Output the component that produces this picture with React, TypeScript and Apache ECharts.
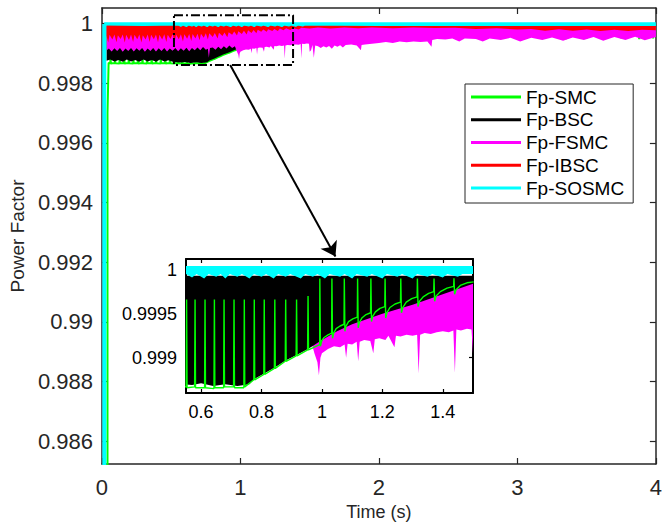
import React, { useEffect, useRef } from "react";
import * as echarts from "echarts";

// ---------------- data ----------------
const mainYTicks = [0.986, 0.988, 0.99, 0.992, 0.994, 0.996, 0.998, 1];
const insetXTicks = [0.6, 0.8, 1, 1.2, 1.4];
const insetYTicks = [0.999, 0.9995, 1];
const insetRange = [0.55, 1.5];
const seriesNames = ["Fp-SMC", "Fp-BSC", "Fp-FSMC", "Fp-IBSC", "Fp-SOSMC"];
const seriesColors = ["#00ff00", "#000000", "#ff00ff", "#ff0000", "#00ffff"];

// Fp-SMC (green) trace: start-up, ripple spikes, hooks after t≈1 s
const smcLine = [
  [0.040, 0.98520], [0.040, 0.99700], [0.048, 0.99868],
  [0.0605, 0.99867], [0.062, 0.99966], [0.0635, 0.99866],
  [0.0935, 0.99868], [0.095, 0.99966], [0.0965, 0.99867],
  [0.1265, 0.99866], [0.128, 0.99966], [0.1295, 0.99868],
  [0.1595, 0.99867], [0.161, 0.99966], [0.1625, 0.99866],
  [0.1925, 0.99868], [0.194, 0.99966], [0.1955, 0.99867],
  [0.2255, 0.99866], [0.227, 0.99966], [0.2285, 0.99868],
  [0.2585, 0.99867], [0.260, 0.99966], [0.2615, 0.99866],
  [0.2915, 0.99868], [0.293, 0.99966], [0.2945, 0.99867],
  [0.3245, 0.99866], [0.326, 0.99966], [0.3275, 0.99868],
  [0.3575, 0.99867], [0.359, 0.99966], [0.3605, 0.99866],
  [0.3905, 0.99868], [0.392, 0.99966], [0.3935, 0.99867],
  [0.4235, 0.99866], [0.425, 0.99966], [0.4265, 0.99868],
  [0.4565, 0.99867], [0.458, 0.99966], [0.4595, 0.99866],
  [0.4895, 0.99868], [0.491, 0.99966], [0.4925, 0.99867],
  [0.5225, 0.99866], [0.524, 0.99966], [0.5255, 0.99868],
  [0.5505, 0.99867], [0.552, 0.99966], [0.5535, 0.99866],
  [0.5785, 0.99867], [0.580, 0.99966], [0.5815, 0.99866],
  [0.6115, 0.99866], [0.613, 0.99966], [0.6145, 0.99866],
  [0.6425, 0.99865], [0.644, 0.99966], [0.6455, 0.99866],
  [0.6745, 0.99866], [0.676, 0.99966], [0.6775, 0.99867],
  [0.7075, 0.99867], [0.709, 0.99966], [0.7105, 0.99866],
  [0.7415, 0.99866], [0.743, 0.99966], [0.7445, 0.99867],
  [0.7745, 0.99875], [0.776, 0.99966], [0.7775, 0.99875],
  [0.8075, 0.99881], [0.809, 0.99966], [0.8105, 0.99881],
  [0.8425, 0.99888], [0.844, 0.99966], [0.8455, 0.99888],
  [0.8785, 0.99896], [0.880, 0.99966], [0.8815, 0.99896],
  [0.9145, 0.99902], [0.916, 0.99966], [0.9175, 0.99902],
  [0.9525, 0.99909], [0.954, 0.99970], [0.9555, 0.99909],
  [0.9925, 0.99915], [0.993, 0.99990], [0.995, 0.99913], [0.999, 0.99919], [1.007, 0.99923], [1.020, 0.99926], [1.032, 0.99928],
  [1.033, 0.99990], [1.035, 0.99922], [1.039, 0.99928], [1.047, 0.99933], [1.060, 0.99936], [1.073, 0.99938],
  [1.074, 0.99990], [1.076, 0.99930], [1.080, 0.99936], [1.088, 0.99941], [1.102, 0.99944], [1.117, 0.99946],
  [1.118, 0.99990], [1.120, 0.99934], [1.124, 0.99940], [1.132, 0.99945], [1.146, 0.99949], [1.161, 0.99951],
  [1.162, 0.99990], [1.164, 0.99941], [1.168, 0.99947], [1.177, 0.99952], [1.192, 0.99956], [1.208, 0.99958],
  [1.209, 0.99990], [1.211, 0.99945], [1.215, 0.99951], [1.225, 0.99957], [1.242, 0.99961], [1.260, 0.99963],
  [1.261, 0.99990], [1.263, 0.99951], [1.268, 0.99957], [1.279, 0.99963], [1.297, 0.99967], [1.315, 0.99969],
  [1.316, 0.99990], [1.318, 0.99958], [1.323, 0.99964], [1.335, 0.99969], [1.353, 0.99973], [1.370, 0.99975],
  [1.371, 0.99990], [1.373, 0.99964], [1.378, 0.99970], [1.392, 0.99975], [1.414, 0.99979], [1.436, 0.99981],
  [1.437, 0.99990], [1.439, 0.99972], [1.444, 0.99977], [1.458, 0.99982], [1.480, 0.99985], [1.502, 0.99986],
  [1.503, 0.99990], [1.505, 0.99978], [1.51, 0.99983], [1.53, 0.99986], [1.6, 0.99988],
  [3.34, 0.99986], [3.35, 0.99948], [3.36, 0.99986], [3.49, 0.99986], [3.50, 0.99950], [3.51, 0.99986],
  [3.61, 0.99986], [3.62, 0.99947], [3.63, 0.99986], [3.74, 0.99986], [3.75, 0.99950], [3.76, 0.99986],
  [3.87, 0.99986], [3.88, 0.99948], [3.89, 0.99986], [3.97, 0.99986], [3.98, 0.99950], [3.99, 0.99986], [4.0, 0.99986],
];

// Fp-BSC (black) lower edge of its ripple band, and band top
const bscLower = [
  [0.033, 0.99875], [0.06, 0.99879], [0.09, 0.99873], [0.12, 0.99878], [0.15, 0.99872], [0.18, 0.99879],
  [0.21, 0.99873], [0.24, 0.99878], [0.27, 0.99872], [0.30, 0.99879], [0.33, 0.99873], [0.36, 0.99878],
  [0.39, 0.99872], [0.42, 0.99879], [0.45, 0.99873], [0.48, 0.99877], [0.51, 0.99872], [0.54, 0.99870],
  [0.57, 0.99869], [0.60, 0.99871], [0.64, 0.99868], [0.68, 0.99870], [0.72, 0.99868], [0.76, 0.99870],
  [0.776, 0.99876], [0.809, 0.99882], [0.844, 0.99889], [0.880, 0.99897], [0.916, 0.99903], [0.954, 0.99910],
  [1.0, 0.99920], [1.05, 0.99930], [1.10, 0.99938], [1.15, 0.99944], [1.20, 0.99950], [1.25, 0.99955],
  [1.30, 0.99960], [1.35, 0.99966], [1.40, 0.99972], [1.45, 0.99978], [1.50, 0.99984], [1.6, 0.99988],
  [2.0, 0.99990], [4.0, 0.99990],
];
const bscTop = 0.99993;

// Fp-FSMC (magenta) lower edge of its ripple band, and band top
const fsmcLower = [
  [0.035, 0.99910], [0.05, 0.99916], [0.07, 0.99906], [0.09, 0.99917], [0.11, 0.99908], [0.13, 0.99918],
  [0.15, 0.99905], [0.17, 0.99916], [0.19, 0.99908], [0.21, 0.99918], [0.23, 0.99906], [0.25, 0.99917],
  [0.27, 0.99909], [0.29, 0.99918], [0.31, 0.99905], [0.33, 0.99916], [0.35, 0.99908], [0.37, 0.99918],
  [0.39, 0.99906], [0.41, 0.99917], [0.43, 0.99908], [0.45, 0.99918], [0.47, 0.99906], [0.49, 0.99916],
  [0.51, 0.99909], [0.53, 0.99918], [0.55, 0.99907], [0.57, 0.99917], [0.59, 0.99909], [0.61, 0.99919],
  [0.63, 0.99907], [0.65, 0.99918], [0.67, 0.99910], [0.69, 0.99920], [0.71, 0.99910], [0.73, 0.99921],
  [0.75, 0.99912], [0.765, 0.99915], [0.772, 0.99885], [0.78, 0.99918], [0.80, 0.99920], [0.82, 0.99912],
  [0.84, 0.99922], [0.86, 0.99914], [0.88, 0.99924], [0.90, 0.99916], [0.92, 0.99926], [0.94, 0.99918],
  [0.96, 0.99924], [0.975, 0.99905], [0.985, 0.99895], [0.99, 0.99880], [0.995, 0.99900], [1.0, 0.99905],
  [1.02, 0.99910], [1.04, 0.99913], [1.06, 0.99912], [1.075, 0.99915], [1.08, 0.99900], [1.085, 0.99916],
  [1.10, 0.99915], [1.115, 0.99918], [1.12, 0.99896], [1.125, 0.99918], [1.14, 0.99920], [1.16, 0.99919],
  [1.17, 0.99905], [1.175, 0.99921], [1.19, 0.99922], [1.21, 0.99920], [1.22, 0.99925], [1.24, 0.99912],
  [1.245, 0.99925], [1.26, 0.99924], [1.28, 0.99926], [1.30, 0.99925], [1.315, 0.99926], [1.32, 0.99882],
  [1.325, 0.99926], [1.34, 0.99928], [1.36, 0.99927], [1.38, 0.99929], [1.40, 0.99930], [1.42, 0.99929],
  [1.435, 0.99931], [1.44, 0.99883], [1.445, 0.99932], [1.46, 0.99931], [1.48, 0.99933], [1.495, 0.99932],
  [1.50, 0.99905], [1.51, 0.99910], [1.52, 0.99928], [1.53, 0.99885], [1.54, 0.99926], [1.56, 0.99924],
  [1.58, 0.99918], [1.60, 0.99924], [1.62, 0.99920], [1.64, 0.99925], [1.66, 0.99915], [1.68, 0.99926],
  [1.70, 0.99922], [1.72, 0.99927], [1.74, 0.99920], [1.76, 0.99928], [1.80, 0.99930], [1.84, 0.99926],
  [1.87, 0.99910], [1.875, 0.99928], [1.90, 0.99930], [1.95, 0.99932], [2.0, 0.99935], [2.05, 0.99938],
  [2.10, 0.99935], [2.15, 0.99940], [2.20, 0.99937], [2.25, 0.99940], [2.30, 0.99938], [2.35, 0.99940],
  [2.38, 0.99922], [2.385, 0.99945], [2.42, 0.99948], [2.48, 0.99946], [2.53, 0.99950], [2.58, 0.99940],
  [2.62, 0.99950], [2.70, 0.99948], [2.75, 0.99940], [2.80, 0.99950], [2.88, 0.99945], [2.95, 0.99952],
  [3.02, 0.99940], [3.10, 0.99952], [3.18, 0.99945], [3.25, 0.99953], [3.33, 0.99942], [3.40, 0.99953],
  [3.48, 0.99945], [3.55, 0.99955], [3.62, 0.99942], [3.70, 0.99955], [3.78, 0.99945], [3.85, 0.99956],
  [3.92, 0.99944], [4.0, 0.99955],
];
const fsmcTop = 0.9999;

// Fp-IBSC (red) lower edge of its ripple band, and band top
const ibscLower = [
  [0.032, 0.99960], [0.045, 0.99936], [0.055, 0.99962], [0.075, 0.99946], [0.09, 0.99963], [0.105, 0.99937],
  [0.115, 0.99961], [0.135, 0.99948], [0.15, 0.99963], [0.165, 0.99936], [0.175, 0.99962], [0.195, 0.99945],
  [0.21, 0.99963], [0.225, 0.99938], [0.235, 0.99962], [0.255, 0.99947], [0.27, 0.99963], [0.285, 0.99936],
  [0.295, 0.99961], [0.315, 0.99946], [0.33, 0.99963], [0.345, 0.99938], [0.355, 0.99962], [0.375, 0.99947],
  [0.39, 0.99963], [0.405, 0.99937], [0.415, 0.99962], [0.435, 0.99946], [0.45, 0.99964], [0.465, 0.99938],
  [0.475, 0.99962], [0.495, 0.99948], [0.51, 0.99964], [0.525, 0.99939], [0.535, 0.99963], [0.555, 0.99947],
  [0.57, 0.99964], [0.585, 0.99940], [0.595, 0.99964], [0.615, 0.99949], [0.63, 0.99965], [0.645, 0.99941],
  [0.655, 0.99965], [0.675, 0.99950], [0.69, 0.99966], [0.705, 0.99944], [0.715, 0.99966], [0.735, 0.99952],
  [0.75, 0.99967], [0.765, 0.99946], [0.775, 0.99967], [0.80, 0.99955], [0.815, 0.99968], [0.835, 0.99950],
  [0.845, 0.99969], [0.87, 0.99958], [0.885, 0.99970], [0.905, 0.99954], [0.915, 0.99971], [0.94, 0.99962],
  [0.955, 0.99973], [0.975, 0.99960], [0.985, 0.99974], [1.01, 0.99965], [1.025, 0.99976], [1.045, 0.99963],
  [1.055, 0.99977], [1.08, 0.99968], [1.095, 0.99978], [1.115, 0.99967], [1.125, 0.99979], [1.15, 0.99972],
  [1.165, 0.99980], [1.19, 0.99972], [1.2, 0.99981], [1.23, 0.99975], [1.245, 0.99982], [1.27, 0.99975],
  [1.285, 0.99983], [1.31, 0.99977], [1.33, 0.99984], [1.36, 0.99978], [1.38, 0.99985], [1.42, 0.99980],
  [1.44, 0.99986], [1.5, 0.99983], [1.56, 0.99987], [1.65, 0.99983], [1.75, 0.99987], [1.85, 0.99984],
  [1.95, 0.99987], [2.1, 0.99984], [2.25, 0.99987], [2.4, 0.99985], [2.55, 0.99986], [2.7, 0.99982],
  [2.85, 0.99984], [3.0, 0.99980], [3.1, 0.99982], [3.2, 0.99976], [3.3, 0.99981], [3.4, 0.99976],
  [3.5, 0.99980], [3.6, 0.99975], [3.7, 0.99979], [3.8, 0.99975], [3.9, 0.99979], [4.0, 0.99977],
];
const ibscTop = 0.99995;

// Fp-SOSMC (cyan): start-up edge and thin ripple band just under 1
const sosmcRise = [[0.017, 0.9852], [0.017, 0.99998]];
const sosmcLower = [
  [0.016, 0.99995], [0.3, 0.99994], [0.55, 0.99995], [0.57, 0.99991], [0.585, 0.99995], [0.61, 0.99990],
  [0.625, 0.99995], [0.65, 0.99992], [0.665, 0.99995], [0.68, 0.99990], [0.695, 0.99995], [0.72, 0.99992],
  [0.735, 0.99995], [0.76, 0.99990], [0.775, 0.99995], [0.80, 0.99992], [0.815, 0.99995], [0.84, 0.99990],
  [0.855, 0.99995], [0.88, 0.99992], [0.895, 0.99995], [0.93, 0.99990], [0.945, 0.99995], [0.97, 0.99992],
  [0.985, 0.99995], [1.01, 0.99990], [1.025, 0.99995], [1.06, 0.99992], [1.075, 0.99995], [1.10, 0.99990],
  [1.115, 0.99995], [1.15, 0.99992], [1.165, 0.99995], [1.20, 0.99990], [1.215, 0.99995], [1.25, 0.99992],
  [1.265, 0.99995], [1.30, 0.99990], [1.315, 0.99995], [1.35, 0.99992], [1.365, 0.99995], [1.40, 0.99991],
  [1.415, 0.99995], [1.45, 0.99992], [1.465, 0.99995], [2.0, 0.99994], [4.0, 0.99994],
];
const sosmcTop = 1.00004;

// zoom annotation (dash-dot box) and arrow, in data units of the main axes
const zoomBox = [[0.52, 1.00028], [1.38, 1.00028], [1.38, 0.99861], [0.52, 0.99861], [0.52, 1.00028]];
const zoomArrow = [[0.926, 0.99861], [1.686, 0.99219]];

// ---------------- chart ----------------
const FONT = "'Liberation Sans', Arial, Helvetica, sans-serif";
const AXIS_COLOR = "#262626";
const fmt = (v: number) => String(Number(v.toFixed(4)));
const MAIN = 0;
const INSET = 2;

// recorded points inside the inset window, plus one neighbour on each side
const inInset = (pts: number[][]) =>
  pts.filter((p, i) => {
    const t = p[0];
    if (t >= insetRange[0] && t <= insetRange[1]) return true;
    if (t < insetRange[0]) return i < pts.length - 1 && pts[i + 1][0] >= insetRange[0];
    return i > 0 && pts[i - 1][0] <= insetRange[1];
  });

// a ripple band: filled between its recorded lower edge and its top level
function band(name: string, color: string, lower: number[][], top: number, ax: number, z: number, edgeW = 0) {
  return {
    type: "line",
    name,
    xAxisIndex: ax,
    yAxisIndex: ax,
    z,
    data: lower,
    showSymbol: false,
    symbol: "none",
    silent: true,
    color,
    lineStyle: { color, width: edgeW },
    areaStyle: { color, opacity: 1, origin: top },
  };
}

function line(name: string, color: string, data: number[][], ax: number, z: number, width: number) {
  return {
    type: "line",
    name,
    xAxisIndex: ax,
    yAxisIndex: ax,
    z,
    data,
    showSymbol: false,
    symbol: "none",
    silent: true,
    color,
    lineStyle: { color, width },
  };
}

function axisDef(grid: number, pos: string, min: number, max: number, extra: any) {
  return {
    type: "value",
    gridIndex: grid,
    position: pos,
    min,
    max,
    splitLine: { show: false },
    axisLine: { show: true, onZero: false, lineStyle: { color: grid === 0 ? AXIS_COLOR : "#000", width: grid === 0 ? 1.5 : 2 } },
    ...extra,
  };
}

export default function App() {
  const ref = useRef<HTMLDivElement>(null);
  useEffect(() => {
    if (!ref.current) return;
    const chart = echarts.init(ref.current, null, { renderer: "svg" });
    const mainTickStyle = { inside: true, length: 6, lineStyle: { color: AXIS_COLOR, width: 1.2 } };
    const insetTickStyle = { inside: true, length: 4, lineStyle: { color: "#000", width: 1.2 } };
    const option: any = {
      animation: false,
      backgroundColor: "#ffffff",
      textStyle: { fontFamily: FONT },
      grid: [
        { left: 97, top: 8, width: 561, height: 457 },
        { left: 186, top: 259, width: 287, height: 134 },
      ],
      legend: {
        left: 465,
        top: 84,
        orient: "vertical",
        icon: "rect",
        itemWidth: 50,
        itemHeight: 3,
        itemGap: 2.75,
        padding: [3, 9, 5, 6],
        borderColor: AXIS_COLOR,
        borderWidth: 1,
        backgroundColor: "#ffffff",
        selectedMode: false,
        textStyle: { fontSize: 19, lineHeight: 20, color: "#000", fontFamily: FONT },
        data: seriesNames.map((n, i) => ({ name: n, itemStyle: { color: seriesColors[i] } })),
        z: 20,
      },
      xAxis: [
        axisDef(0, "bottom", 0, 4, {
          interval: 1,
          axisTick: mainTickStyle,
          axisLabel: { fontSize: 22, color: AXIS_COLOR, margin: 12, fontFamily: FONT },
          name: "Time (s)",
          nameLocation: "middle",
          nameGap: 39,
          nameTextStyle: { fontSize: 18, color: AXIS_COLOR, fontFamily: FONT },
        }),
        axisDef(0, "top", 0, 4, { interval: 1, axisTick: mainTickStyle, axisLabel: { show: false } }),
        axisDef(1, "bottom", insetRange[0], insetRange[1], {
          axisTick: { ...insetTickStyle, customValues: insetXTicks },
          axisLabel: { customValues: insetXTicks, formatter: fmt, fontSize: 18, color: "#000", margin: 10, fontFamily: FONT },
        }),
        axisDef(1, "top", insetRange[0], insetRange[1], {
          axisTick: { ...insetTickStyle, customValues: insetXTicks },
          axisLabel: { show: false },
        }),
      ],
      yAxis: [
        axisDef(0, "left", 0.985234, 1.00052, {
          axisTick: { ...mainTickStyle, customValues: mainYTicks },
          axisLabel: { customValues: mainYTicks, formatter: fmt, fontSize: 22, color: AXIS_COLOR, margin: 9, fontFamily: FONT },
          name: "Power Factor",
          nameLocation: "middle",
          nameGap: 70,
          nameTextStyle: { fontSize: 19, color: AXIS_COLOR, fontFamily: FONT },
        }),
        axisDef(0, "right", 0.985234, 1.00052, {
          axisTick: { ...mainTickStyle, customValues: mainYTicks },
          axisLabel: { show: false },
        }),
        axisDef(1, "left", 0.9986, 1.00012, {
          axisTick: { ...insetTickStyle, customValues: insetYTicks },
          axisLabel: { customValues: insetYTicks, formatter: fmt, fontSize: 18, color: "#000", margin: 9, fontFamily: FONT },
        }),
        axisDef(1, "right", 0.9986, 1.00012, {
          axisTick: { ...insetTickStyle, customValues: insetYTicks },
          axisLabel: { show: false },
        }),
      ],
      series: [
        // main axes, drawn in legend order
        line(seriesNames[0], seriesColors[0], smcLine, MAIN, 2, 2),
        band(seriesNames[1], seriesColors[1], bscLower, bscTop, MAIN, 3),
        band(seriesNames[2], seriesColors[2], fsmcLower, fsmcTop, MAIN, 4),
        band(seriesNames[3], seriesColors[3], ibscLower, ibscTop, MAIN, 5),
        band(seriesNames[4], seriesColors[4], sosmcLower, sosmcTop, MAIN, 6, 1.2),
        line(seriesNames[4], seriesColors[4], sosmcRise, MAIN, 6, 4),
        {
          type: "line",
          name: "zoom",
          xAxisIndex: MAIN,
          yAxisIndex: MAIN,
          z: 8,
          data: zoomBox,
          showSymbol: false,
          symbol: "none",
          silent: true,
          lineStyle: { color: "#000", width: 2, type: [9, 3, 2, 3] },
          markLine: {
            silent: true,
            symbol: ["none", "arrow"],
            symbolSize: 14,
            label: { show: false },
            lineStyle: { color: "#000", width: 2, type: "solid" },
            data: [[{ coord: zoomArrow[0] }, { coord: zoomArrow[1] }]],
          },
        },
        // inset axes
        band(seriesNames[2], seriesColors[2], inInset(fsmcLower), fsmcTop, INSET, 10),
        band(seriesNames[1], seriesColors[1], inInset(bscLower), bscTop, INSET, 11),
        line(seriesNames[0], seriesColors[0], inInset(smcLine), INSET, 12, 1.4),
        band(seriesNames[4], seriesColors[4], inInset(sosmcLower), sosmcTop, INSET, 13),
      ],
    };
    chart.setOption(option);
    return () => chart.dispose();
  }, []);
  return (
    <div
      ref={ref}
      style={{ position: "absolute", left: 0, top: 0, width: 665, height: 526, background: "#fff" }}
    />
  );
}
